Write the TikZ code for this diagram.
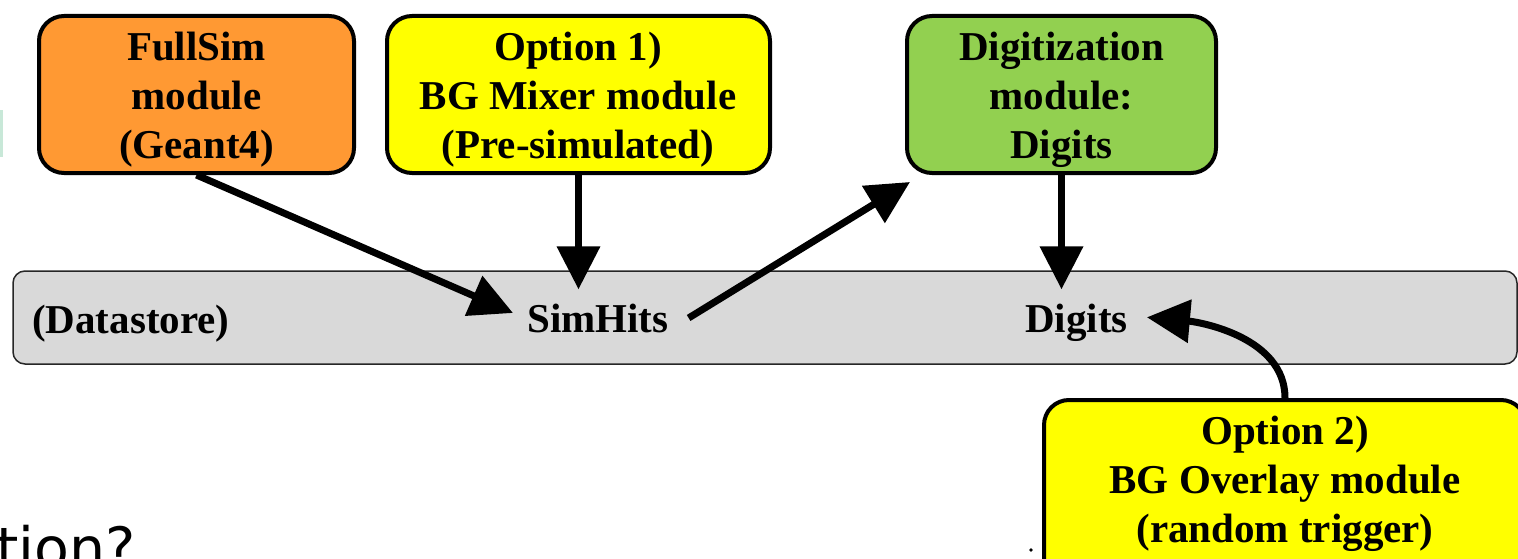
\documentclass[tikz,border=0pt]{standalone}
\usepackage{fontspec}
\setmainfont{Liberation Serif}
\newfontfamily\slidefont{DejaVu Sans}
\usetikzlibrary{arrows.meta,calc}
\definecolor{simorange}{RGB}{255,153,51}
\definecolor{mixyellow}{RGB}{255,255,0}
\definecolor{digigreen}{RGB}{146,208,80}
\definecolor{storegray}{RGB}{217,217,217}
\definecolor{titlemint}{RGB}{200,232,216}
\begin{document}
\begin{tikzpicture}[x=1pt,y=-1pt,
  module/.style={draw=black, line width=4pt, rounded corners=25pt, inner sep=0pt},
  modtext/.style={align=center, font=\fontsize{41}{49}\selectfont\bfseries, inner sep=0pt},
  storetext/.style={font=\fontsize{41}{49}\selectfont\bfseries, inner sep=0pt},
  flow/.style={line width=7pt, -{Triangle[length=43pt,width=42pt]}},
]
\useasboundingbox (0,0) rectangle (1518,559);

% datastore bar
\node[draw=black!85, line width=1.5pt, rounded corners=12pt, fill=storegray,
      minimum width=1504pt, minimum height=93pt, inner sep=0pt] (store) at (765,317.5) {};

% module boxes
\node[module, fill=simorange, minimum width=315pt, minimum height=157pt] (fullsim) at (196.5,94.5) {};
\node[module, fill=mixyellow, minimum width=383pt, minimum height=157pt] (opt1) at (578.5,94.5) {};
\node[module, fill=digigreen, minimum width=309pt, minimum height=157pt] (digi) at (1061.5,94.5) {};
\node[module, fill=mixyellow, minimum width=482pt, minimum height=190pt] (opt2) at (1285,495) {};

% module labels
\node[modtext] (fullsimtxt) at (196.5,100) {FullSim\\module\\(Geant4)};
\node[modtext] (opt1txt) at (578,100) {Option 1)\\BG Mixer module\\(Pre-simulated)};
\node[modtext] (digitxt) at (1061.5,100) {Digitization\\module:\\Digits};
\node[modtext] (opt2txt) at (1285,484) {Option 2)\\BG Overlay module\\(random trigger)};

% datastore contents
\node[storetext, anchor=base west] (datastore) at (32,333) {(Datastore)};
\node[storetext, anchor=base west] (simhits) at (527,332) {SimHits};
\node[storetext, anchor=base west] (digits) at (1025,332) {Digits};

% data flow
\draw[flow] (fullsim.south) -- ($(simhits.west)+(-14,-5)$);
\draw[flow, shorten >=14pt] (opt1.south) -- (opt1.south |- simhits.north);
\draw[flow] ($(simhits.east)+(20,0)$) -- ($(digi.south west)+(5,7)$);
\draw[flow, shorten >=14pt] (digi.south) -- (digi.south |- digits.north);
\draw[flow] (opt2.north) .. controls +(0,-60) and +(55,5) .. ($(digits.east)+(19,-5)$);

% slide remnants
\node[font=\slidefont\fontsize{57}{68}\selectfont, inner sep=0pt, anchor=base west] (question) at (-4,568) {tion?};
\fill[titlemint] (0,110) rectangle (2.5,157);
\fill (1031,550) circle (1.8);
\end{tikzpicture}
\end{document}
